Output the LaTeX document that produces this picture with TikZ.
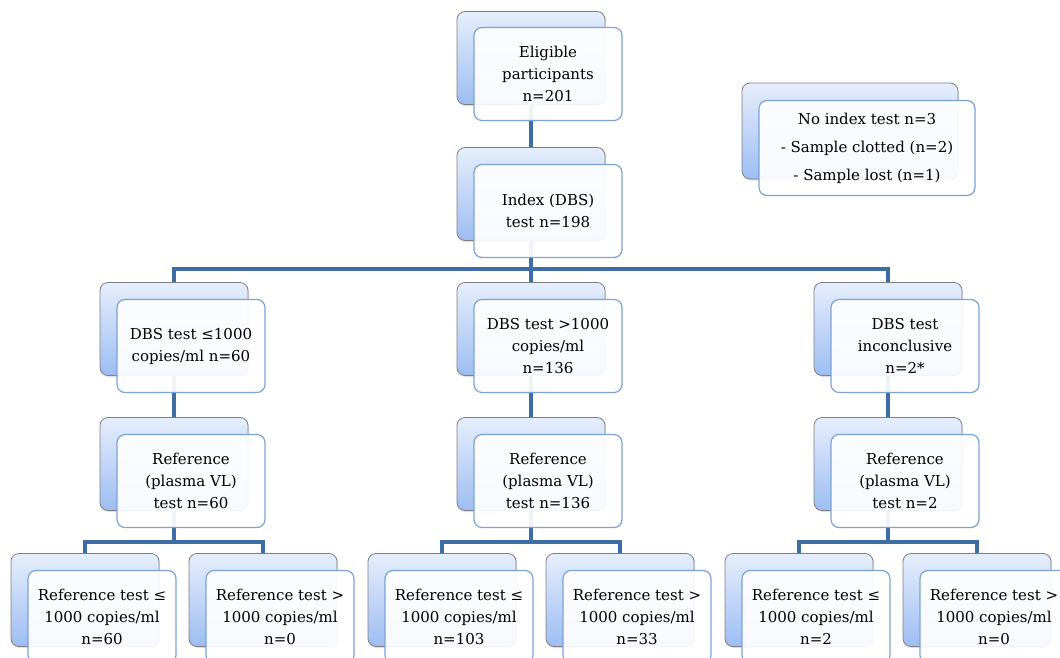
\documentclass[tikz,border=0pt]{standalone}
\usepackage{fontspec}
\setmainfont{DejaVu Serif}
\definecolor{fcblue}{HTML}{3E6DA6}
\definecolor{fcedge}{HTML}{7BA3D6}
\definecolor{fctop}{HTML}{E6EEFC}
\definecolor{fcbottom}{HTML}{9DBDF3}
\definecolor{fcgray}{HTML}{7F7F7F}
\usetikzlibrary{positioning, shadows}

\begin{document}
\begin{tikzpicture}[x=1pt, y=-1pt,
  back/.style={rounded corners=8pt, minimum width=148pt, minimum height=93pt,
               draw=fcgray, line width=0.8pt, top color=fctop, bottom color=fcbottom,
               drop shadow={opacity=0.25, shadow xshift=1pt, shadow yshift=-1.5pt}},
  front/.style={rounded corners=8pt, minimum width=148pt, minimum height=93pt,
                draw=fcedge, line width=1.2pt, fill=white, fill opacity=0.92, text opacity=1,
                align=center, font=\fontsize{15}{22}\selectfont},
  link/.style={draw=fcblue, line width=3.4pt},
]
  \useasboundingbox (0,0) rectangle (1060,658);

  % connectors sit behind the boxes
  \coordinate (eligb) at (531,58);
  \coordinate (indexb) at (531,194);
  \coordinate (dbslob) at (174,329);
  \coordinate (dbshib) at (531,329);
  \coordinate (dbsinb) at (888,329);
  \coordinate (refab) at (174,464);
  \coordinate (refbb) at (531,464);
  \coordinate (refcb) at (888,464);

  \draw[link] (eligb) -- (indexb);
  \draw[link] (indexb) -- (531,269) -| (dbslob);
  \draw[link] (531,269) -| (dbsinb);
  \draw[link] (indexb) -- (dbshib);
  \draw[link] (dbslob) -- (refab);
  \draw[link] (dbshib) -- (refbb);
  \draw[link] (dbsinb) -- (refcb);
  \draw[link] (refab) -- (174,542) -| (85,600);
  \draw[link] (174,542) -| (263,600);
  \draw[link] (refbb) -- (531,542) -| (442,600);
  \draw[link] (531,542) -| (620,600);
  \draw[link] (refcb) -- (888,542) -| (799,600);
  \draw[link] (888,542) -| (977,600);

  \node[back] (eligbox) at (eligb) {};
  \node[front] (elig) at (548,74) {Eligible\\participants\\n=201};

  \node[back, minimum width=216pt, minimum height=96pt] (noidxbox) at (850,131) {};
  \node[front, minimum width=216pt, minimum height=95pt,
        font=\fontsize{15}{28}\selectfont] (noidx) at (867,148)
    {No index test n=3\\- Sample clotted (n=2)\\- Sample lost (n=1)};

  \node[back] (indexbox) at (indexb) {};
  \node[front] (index) at (548,211) {Index (DBS)\\test n=198};

  \node[back] (dbslobox) at (dbslob) {};
  \node[front] (dbslo) at (191,346) {DBS test ≤1000\\copies/ml n=60};
  \node[back] (dbshibox) at (dbshib) {};
  \node[front] (dbshi) at (548,346) {DBS test >1000\\copies/ml\\n=136};
  \node[back] (dbsinbox) at (dbsinb) {};
  \node[front] (dbsin) at (905,346) {DBS test\\inconclusive\\n=2*};

  \node[back] (refabox) at (refab) {};
  \node[front] (refa) at (191,481) {Reference\\(plasma VL)\\test n=60};
  \node[back] (refbbox) at (refbb) {};
  \node[front] (refb) at (548,481) {Reference\\(plasma VL)\\test n=136};
  \node[back] (refcbox) at (refcb) {};
  \node[front] (refc) at (905,481) {Reference\\(plasma VL)\\test n=2};

  \node[back] (lowabox) at (85,600) {};
  \node[front] (lowa) at (102,617) {Reference test ≤\\1000 copies/ml\\n=60};
  \node[back] (highabox) at (263,600) {};
  \node[front] (higha) at (280,617) {Reference test >\\1000 copies/ml\\n=0};
  \node[back] (lowbbox) at (442,600) {};
  \node[front] (lowb) at (459,617) {Reference test ≤\\1000 copies/ml\\n=103};
  \node[back] (highbbox) at (620,600) {};
  \node[front] (highb) at (637,617) {Reference test >\\1000 copies/ml\\n=33};
  \node[back] (lowcbox) at (799,600) {};
  \node[front] (lowc) at (816,617) {Reference test ≤\\1000 copies/ml\\n=2};
  \node[back] (highcbox) at (977,600) {};
  \node[front] (highc) at (994,617) {Reference test >\\1000 copies/ml\\n=0};
\end{tikzpicture}
\end{document}
